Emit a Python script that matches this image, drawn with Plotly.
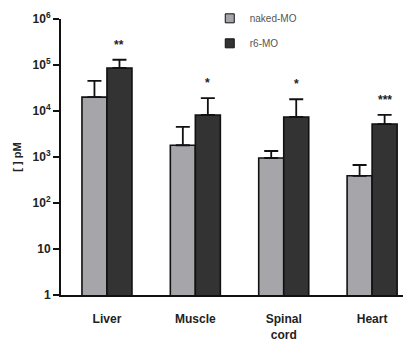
import math
import plotly.graph_objects as go

categories = ["Liver", "Muscle", "Spinal<br>cord", "Heart"]
naked_mo = [20000, 1800, 950, 390]
naked_mo_err_top = [45000, 4500, 1350, 670]
r6_mo = [86000, 8200, 7400, 5200]
r6_mo_err_top = [130000, 19000, 18000, 8200]
significance = ["**", "*", "*", "***"]
tick_vals = [1, 10, 100, 1000, 10000, 100000, 1000000]
tick_text = ["1", "10", "10<sup>2</sup>", "10<sup>3</sup>", "10<sup>4</sup>", "10<sup>5</sup>", "10<sup>6</sup>"]

FONT = "Liberation Sans, Arial, sans-serif"
NAKED_COLOR = "#a5a5aa"
R6_COLOR = "#333333"

fig = go.Figure()
for name, vals, tops, color in [("naked-MO", naked_mo, naked_mo_err_top, NAKED_COLOR),
                                ("r6-MO", r6_mo, r6_mo_err_top, R6_COLOR)]:
    fig.add_trace(go.Bar(
        name=name, x=categories, y=vals, showlegend=False,
        marker=dict(color=color, line=dict(color="#111111", width=1.6)),
        error_y=dict(type="data", symmetric=False,
                     array=[t - v for t, v in zip(tops, vals)],
                     arrayminus=[0] * len(vals),
                     color="#111111", thickness=1.8, width=7),
    ))
    # legend entry with a small square swatch
    fig.add_trace(go.Scatter(
        name=name, x=[None], y=[None], mode="markers", legendgroup=name,
        marker=dict(symbol="square", size=9, color=color, line=dict(color="#111111", width=1)),
    ))

for cat, top, sig in zip(categories, r6_mo_err_top, significance):
    fig.add_annotation(x=cat, y=math.log10(top), text=sig,
                       xref="x", yref="y", showarrow=False, xshift=12.5, yshift=15,
                       font=dict(family=FONT, size=12, color="#222222", weight="bold"))

fig.update_layout(
    width=411, height=344,
    margin=dict(l=53, r=8, t=11, b=57, autoexpand=False),
    paper_bgcolor="white", plot_bgcolor="white",
    barmode="group", bargap=0.434, bargroupgap=0,
    font=dict(family=FONT, size=11, color="#222222"),
    legend=dict(x=0.425, y=1.055, xanchor="left", yanchor="top",
                font=dict(family=FONT, size=10, color="#555555"),
                bgcolor="rgba(0,0,0,0)", itemwidth=30, tracegroupgap=6,
                traceorder="grouped"),
    showlegend=True,
)
fig.update_xaxes(
    range=[-0.52, 3.44], showline=True, linecolor="#111111", linewidth=2,
    ticks="outside", ticklen=12, tickcolor="rgba(0,0,0,0)", showgrid=False,
    tickfont=dict(family=FONT, size=12, color="#222222", weight="bold"),
)
fig.update_yaxes(
    type="log", range=[0, 6], showline=True, linecolor="#111111", linewidth=2,
    ticks="outside", ticklen=6, tickwidth=2, tickcolor="#111111",
    tickvals=tick_vals, ticktext=tick_text, showgrid=False, zeroline=False,
    tickfont=dict(family=FONT, size=12, color="#222222", weight="bold"),
    title=dict(text="[ ] pM", font=dict(family=FONT, size=11, color="#222222", weight="bold"),
               standoff=9),
)

fig.write_html("out.html")
